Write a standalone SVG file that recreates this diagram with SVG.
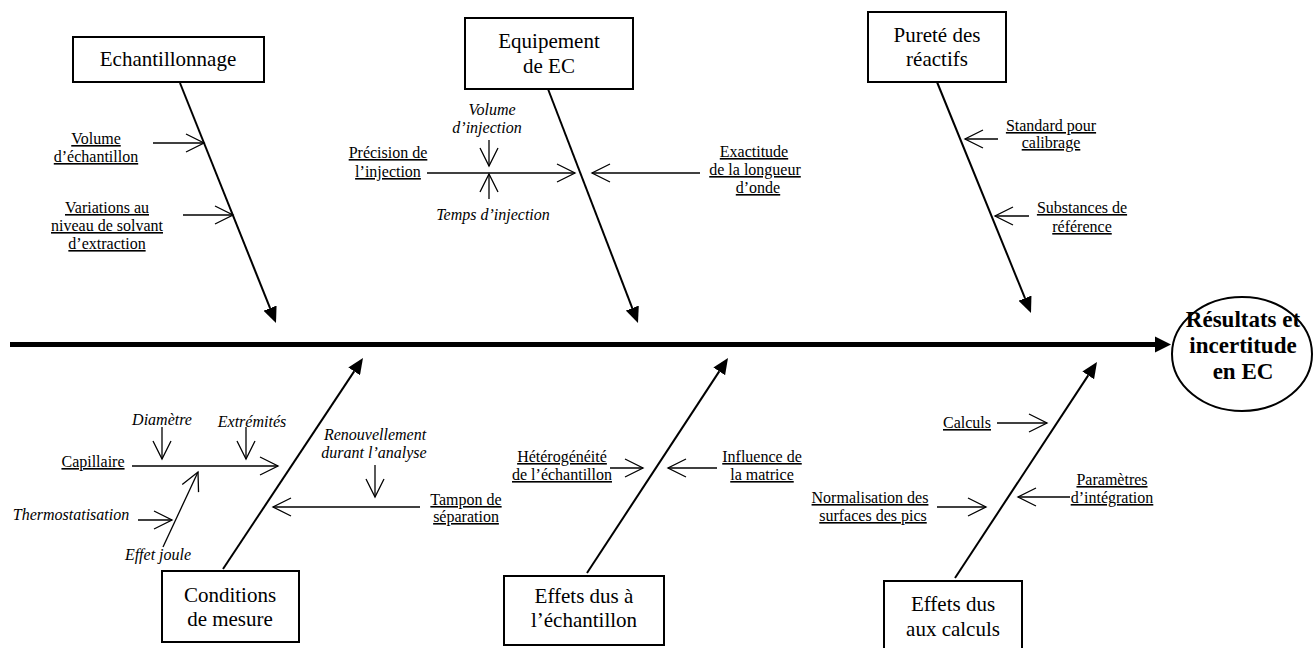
<svg xmlns="http://www.w3.org/2000/svg" width="1314" height="648" viewBox="0 0 1314 648">
  <style>
    text { font-family: "Liberation Serif", "Times New Roman", serif; fill: #000; }
    .box { fill: #fff; stroke: #000; stroke-width: 2; }
    .head { font-size: 21px; text-anchor: middle; }
    .lbl { font-size: 16px; text-anchor: middle; text-decoration: underline; }
    .ital { font-size: 16px; text-anchor: middle; font-style: italic; }
    .res { font-size: 23px; font-weight: bold; text-anchor: middle; }
    .bone { stroke: #000; stroke-width: 2; fill: none; marker-end: url(#solid); }
    .twig { stroke: #000; stroke-width: 1.3; fill: none; marker-end: url(#open); }
  </style>
  <defs>
    <marker id="solid" markerUnits="userSpaceOnUse" viewBox="0 -7 16 14" refX="0" refY="0" markerWidth="16" markerHeight="14" orient="auto">
      <path d="M0,-7 L16,0 L0,7 z" fill="#000"/>
    </marker>
    <marker id="open" markerUnits="userSpaceOnUse" viewBox="-20 -11 22 22" refX="0" refY="0" markerWidth="22" markerHeight="22" orient="auto">
      <path d="M-18,-9 L0,0 L-18,9" fill="none" stroke="#000" stroke-width="1.3"/>
    </marker>
  </defs>

  <!-- main spine -->
  <g id="spine">
    <line x1="10" y1="344.5" x2="1156" y2="344.5" stroke="#000" stroke-width="5"/>
    <polygon points="1155,336.5 1171,344.5 1155,352.5" fill="#000"/>
  </g>

  <!-- connectors: main bones and contributing causes -->
  <g id="connectors">
    <path class="bone" d="M180,83 L270.06,308.14"/>
    <path class="bone" d="M548,89 L632.26,308.07"/>
    <path class="bone" d="M937,82 L1024.97,298.18"/>
    <path class="bone" d="M223,569 L354.15,371.33"/>
    <path class="bone" d="M587,573 L719.23,371.38"/>
    <path class="bone" d="M955,578 L1088.21,375.37"/>

    <path class="twig" d="M153,143 L204,143"/>
    <path class="twig" d="M183,215 L233,215"/>
    <path class="twig" d="M427,173 L575,173"/>
    <path class="twig" d="M700,173 L592,173"/>
    <path class="twig" d="M489,140 L489,166"/>
    <path class="twig" d="M489,199 L489,174"/>
    <path class="twig" d="M998,139 L965,139"/>
    <path class="twig" d="M1029,216 L995,216"/>
    <path class="twig" d="M132,466 L278,466"/>
    <path class="twig" d="M162,427 L162,459"/>
    <path class="twig" d="M246,427 L246,459"/>
    <path class="twig" d="M163,547 L198,472"/>
    <path class="twig" d="M138,520 L172,520"/>
    <path class="twig" d="M375,465 L375,497"/>
    <path class="twig" d="M420,507 L273,507"/>
    <path class="twig" d="M610,468 L643,468"/>
    <path class="twig" d="M717,468 L668,468"/>
    <path class="twig" d="M997,423 L1047,423"/>
    <path class="twig" d="M937,507 L986,507"/>
    <path class="twig" d="M1070,497 L1018,497"/>
  </g>

  <!-- category boxes -->
  <g id="echantillonnage">
    <rect class="box" x="73" y="37" width="191" height="45"/>
    <text class="head" x="168" y="66">Echantillonnage</text>
  </g>
  <g id="equipement">
    <rect class="box" x="465" y="18" width="168" height="71"/>
    <text class="head" x="549" y="48">Equipement</text>
    <text class="head" x="549" y="73">de EC</text>
  </g>
  <g id="purete">
    <rect class="box" x="868" y="12" width="138" height="70"/>
    <text class="head" x="937" y="42">Pureté des</text>
    <text class="head" x="937" y="66">réactifs</text>
  </g>
  <g id="conditions">
    <rect class="box" x="162" y="571" width="137" height="71"/>
    <text class="head" x="230" y="602">Conditions</text>
    <text class="head" x="230" y="626">de mesure</text>
  </g>
  <g id="effets-echantillon">
    <rect class="box" x="504" y="576" width="160" height="69"/>
    <text class="head" x="584" y="603">Effets dus à</text>
    <text class="head" x="584" y="627">l’échantillon</text>
  </g>
  <g id="effets-calculs">
    <rect class="box" x="884" y="581" width="138" height="70"/>
    <text class="head" x="953" y="611">Effets dus</text>
    <text class="head" x="953" y="636">aux calculs</text>
  </g>

  <!-- outcome -->
  <g id="resultats">
    <ellipse cx="1242" cy="354" rx="70" ry="57" fill="#fff" stroke="#000" stroke-width="2"/>
    <text class="res" x="1243" y="327">Résultats et</text>
    <text class="res" x="1243" y="353">incertitude</text>
    <text class="res" x="1243" y="379">en EC</text>
  </g>

  <!-- cause labels -->
  <g id="volume-echantillon">
    <text class="lbl" x="96" y="144">Volume</text>
    <text class="lbl" x="96" y="162">d’échantillon</text>
  </g>
  <g id="variations-solvant">
    <text class="lbl" x="107" y="213">Variations au</text>
    <text class="lbl" x="107" y="231">niveau de solvant</text>
    <text class="lbl" x="107" y="249">d’extraction</text>
  </g>
  <g id="precision-injection">
    <text class="lbl" x="388" y="158">Précision de</text>
    <text class="lbl" x="388" y="177">l’injection</text>
  </g>
  <g id="volume-injection">
    <text class="ital" x="492" y="115">Volume</text>
    <text class="ital" x="487" y="133">d’injection</text>
  </g>
  <g id="temps-injection">
    <text class="ital" x="493" y="220">Temps d’injection</text>
  </g>
  <g id="exactitude">
    <text class="lbl" x="754" y="157">Exactitude</text>
    <text class="lbl" x="755" y="175"> de la longueur</text>
    <text class="lbl" x="758" y="193">d’onde</text>
  </g>
  <g id="standard">
    <text class="lbl" x="1051" y="131">Standard pour</text>
    <text class="lbl" x="1051" y="148">calibrage</text>
  </g>
  <g id="substances">
    <text class="lbl" x="1082" y="213">Substances de</text>
    <text class="lbl" x="1082" y="232">référence</text>
  </g>
  <g id="capillaire">
    <text class="lbl" x="93" y="467">Capillaire</text>
  </g>
  <g id="diametre">
    <text class="ital" x="162" y="425">Diamètre</text>
  </g>
  <g id="extremites">
    <text class="ital" x="252" y="427">Extrémités</text>
  </g>
  <g id="thermostatisation">
    <text class="ital" x="71" y="520">Thermostatisation</text>
  </g>
  <g id="effet-joule">
    <text class="ital" x="158" y="560">Effet joule</text>
  </g>
  <g id="renouvellement">
    <text class="ital" x="375" y="440">Renouvellement</text>
    <text class="ital" x="374" y="458">durant l’analyse</text>
  </g>
  <g id="tampon">
    <text class="lbl" x="466" y="505">Tampon de</text>
    <text class="lbl" x="466" y="522">séparation</text>
  </g>
  <g id="heterogeneite">
    <text class="lbl" x="562" y="462">Hétérogénéité</text>
    <text class="lbl" x="562" y="480">de l’échantillon</text>
  </g>
  <g id="influence-matrice">
    <text class="lbl" x="762" y="462">Influence de</text>
    <text class="lbl" x="762" y="480">la matrice</text>
  </g>
  <g id="calculs">
    <text class="lbl" x="967" y="428">Calculs</text>
  </g>
  <g id="normalisation">
    <text class="lbl" x="870" y="503">Normalisation des</text>
    <text class="lbl" x="873" y="521">surfaces des pics</text>
  </g>
  <g id="parametres">
    <text class="lbl" x="1112" y="485">Paramètres</text>
    <text class="lbl" x="1112" y="503">d’intégration</text>
  </g>
</svg>
